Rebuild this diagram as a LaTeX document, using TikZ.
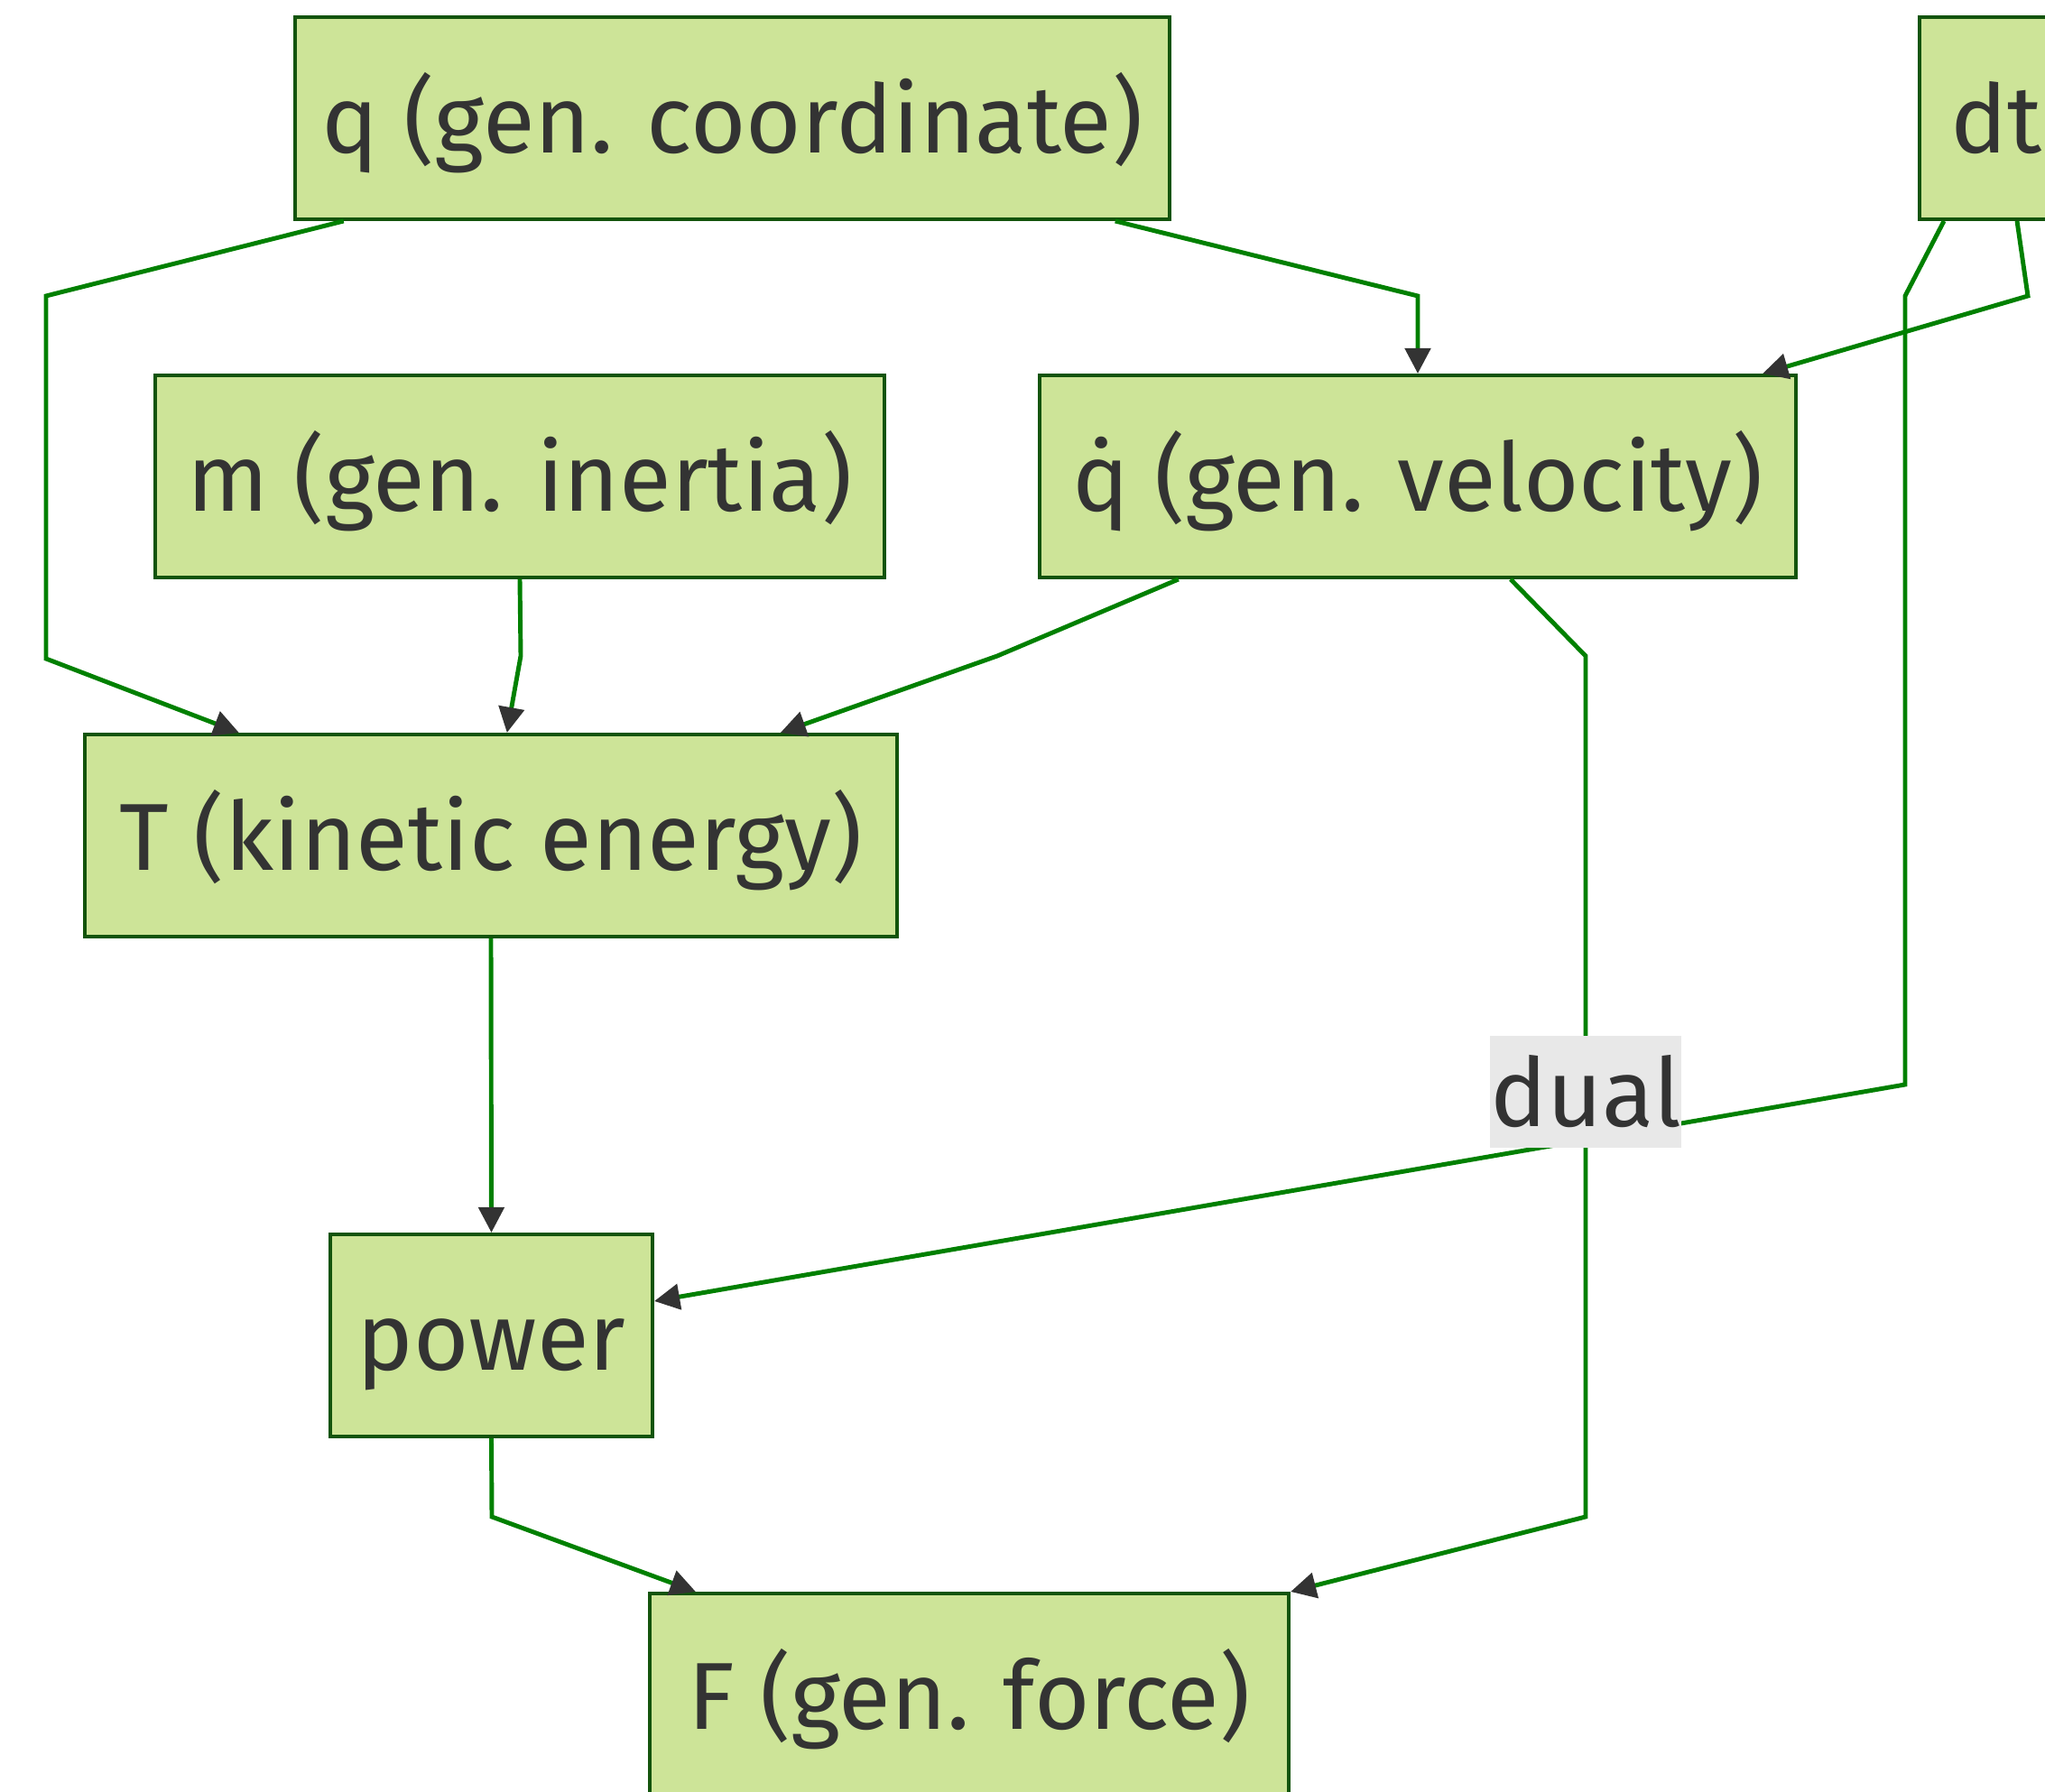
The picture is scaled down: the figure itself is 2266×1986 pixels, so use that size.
\documentclass[tikz,border=0pt]{standalone}
\usepackage{fontspec}
\setmainfont{Fira Sans}
\usetikzlibrary{arrows.meta,calc}
\definecolor{nodefill}{HTML}{CDE498}
\definecolor{nodeborder}{HTML}{13540C}
\definecolor{edgegreen}{HTML}{008000}
\definecolor{textgray}{HTML}{333333}
\definecolor{labelbg}{HTML}{E8E8E8}
\begin{document}
\begin{tikzpicture}[x=0.01cm,y=-0.01cm,
  box/.style={draw=nodeborder,line width=1.1pt,fill=nodefill,text=textgray,
    minimum height=2.24cm,inner sep=0pt,text height=26pt,text depth=4pt,
    font=\fontsize{30}{34}\selectfont},
  link/.style={draw=edgegreen,line width=1.4pt,
    -{Triangle[length=8pt,width=8pt,color=textgray,fill=textgray]}},
  edgelabel/.style={fill=labelbg,text=textgray,inner sep=0pt,
    text height=25pt,text depth=3pt,
    minimum width=2.0cm,minimum height=1.24cm,font=\fontsize{30}{34}\selectfont}]
\useasboundingbox (0,0) rectangle (2266,1986);

% quantities
\node[box,minimum width=9.69cm] (q)  at (811.5,131) {q (gen. coordinate)};
\node[box,minimum width=1.70cm] (dt) at (2212,131) {dt};
\node[box,minimum width=8.08cm] (m)  at (576,528) {m (gen. inertia)};
\node[box,minimum width=8.38cm] (qd) at (1571,528) {q̇ (gen. velocity)};
\node[box,minimum width=9.00cm] (T)  at (544,926) {T (kinetic energy)};
\node[box,minimum width=3.57cm] (pw) at (544.5,1480) {power};
\node[box,minimum width=7.08cm] (F)  at (1074,1878) {F (gen. force)};

% dependencies
\draw[link] ($(q.south west)+(56,0)$) -- (51,328) -- (51,730) -- ($(T.north west)+(173,0)$);
\draw[link] ($(q.south west)+(911,0)$) -- (1571,328) -- (qd.north);
\draw[link] ($(dt.south west)+(110,0)$) -- (2247,328) -- ($(qd.north east)+(-39,0)$);
\draw[link] ($(dt.south west)+(29,0)$) -- (2111,328) -- (2111,1202) -- ($(pw.east)+(0,-38)$);
\draw[link] ($(qd.south west)+(524,0)$) -- (1757,727) -- (1757,1681) -- (F.north east);
\draw[link] ($(qd.south west)+(156,0)$) -- (1105,727) -- ($(T.north west)+(773,0)$);
\draw[link] (m.south) -- (577,727) -- ($(T.north west)+(470,0)$);
\draw[link] (T.south) -- (pw.north);
\draw[link] (pw.south) -- (545,1681) -- ($(F.north west)+(53,0)$);

% label of the dt -> power link
\node[edgelabel] (dual) at (1757,1210) {dual};
\end{tikzpicture}
\end{document}
